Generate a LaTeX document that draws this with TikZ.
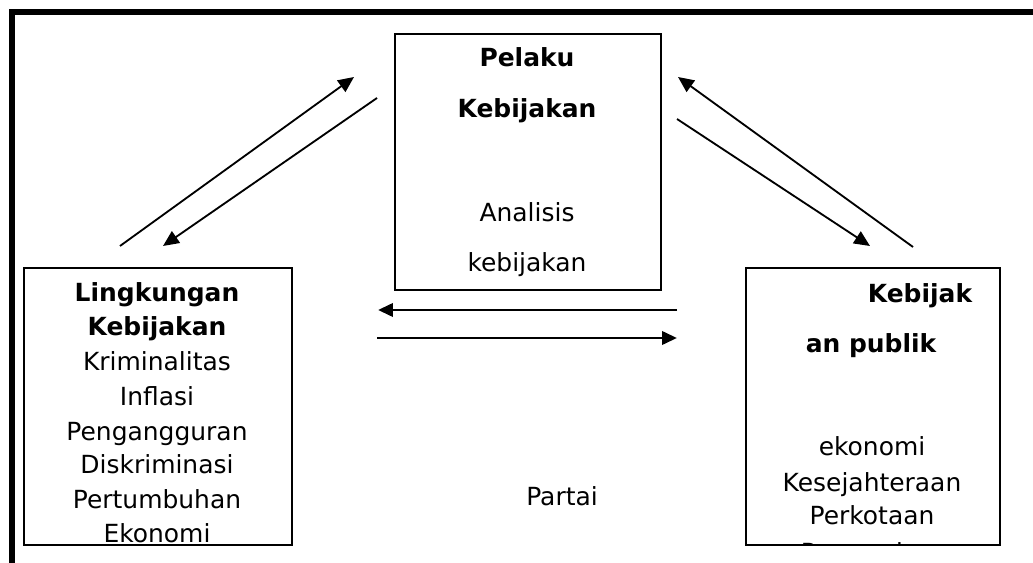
\documentclass[tikz,border=0pt]{standalone}
\usepackage{fontspec}
\setmainfont{DejaVu Sans}
\usepackage{xcolor}
\usepackage{tikz}
\usetikzlibrary{arrows.meta}
\definecolor{ink}{HTML}{000000}
\definecolor{paper}{HTML}{FFFFFF}
\tikzset{
  frame/.style={draw=ink, line width=2.9pt},
  box/.style={draw=ink, line width=1.1pt, rectangle, inner sep=0pt, anchor=north west},
  flow/.style={draw=ink, line width=1.05pt, -{Triangle[length=9pt,width=8pt]}},
  flowh/.style={draw=ink, line width=1.7pt, -{Triangle[length=8.5pt,width=7.5pt]}},
  lab/.style={text=ink, font=\fontsize{14.2}{17}\selectfont, anchor=base, inner sep=0pt},
  labb/.style={lab, font=\fontsize{14.2}{17}\selectfont\bfseries},
}

\begin{document}
\begin{tikzpicture}[x=0.02cm, y=-0.02cm]
  \fill[paper] (0,0) rectangle (1033,563);
  \useasboundingbox (0,0) rectangle (1033,563);
  \draw[frame] (12,563) -- (12,12) -- (1033,12);

  \node[box, minimum width=5.32cm, minimum height=5.12cm] (pelaku) at (394,33) {};
  \node[box, minimum width=5.36cm, minimum height=5.54cm] (lingk) at (23,267) {};
  \node[box, minimum width=5.08cm, minimum height=5.54cm] (publik) at (745,267) {};

  \node[labb] (p1) at (527,67) {Pelaku};
  \node[labb] (p2) at (527,118) {Kebijakan};
  \node[lab] (p3) at (527,222) {Analisis};
  \node[lab] (p4) at (527,272) {kebijakan};

  \node[labb] (l1) at (157,302) {Lingkungan};
  \node[labb] (l2) at (157,336) {Kebijakan};
  \node[lab] (l3) at (157,371) {Kriminalitas};
  \node[lab] (l4) at (157,405) {Inflasi};
  \node[lab] (l5) at (157,440) {Pengangguran};
  \node[lab] (l6) at (157,473) {Diskriminasi};
  \node[lab] (l7) at (157,508) {Pertumbuhan};
  \node[lab] (l8) at (157,542) {Ekonomi};

  \node[labb] (k1) at (920,303) {Kebijak};
  \node[labb] (k2) at (871,353) {an publik};
  \node[lab] (k3) at (872,455) {ekonomi};
  \node[lab] (k4) at (872,491) {Kesejahteraan};
  \node[lab] (k5) at (872,524) {Perkotaan};
  \begin{scope}
    \clip (745,267) rectangle (999,544);
    \node[lab] (k6) at (872,561) {Perumahan};
  \end{scope}

  \node[lab] (partai) at (562,505) {Partai};

  \coordinate (a1s) at (120,246);
  \coordinate (a1e) at (354,77);
  \coordinate (a2s) at (377,98);
  \coordinate (a2e) at (163,246);
  \coordinate (a3s) at (913,247);
  \coordinate (a3e) at (678,77);
  \coordinate (a4s) at (677,119);
  \coordinate (a4e) at (870,246);
  \coordinate (a5s) at (677,310);
  \coordinate (a5e) at (378,310);
  \coordinate (a6s) at (377,338);
  \coordinate (a6e) at (677,338);

  \draw[flow] (a1s) -- (a1e);
  \draw[flow] (a2s) -- (a2e);
  \draw[flow] (a3s) -- (a3e);
  \draw[flow] (a4s) -- (a4e);
  \draw[flowh] (a5s) -- (a5e);
  \draw[flowh] (a6s) -- (a6e);
\end{tikzpicture}
\end{document}
